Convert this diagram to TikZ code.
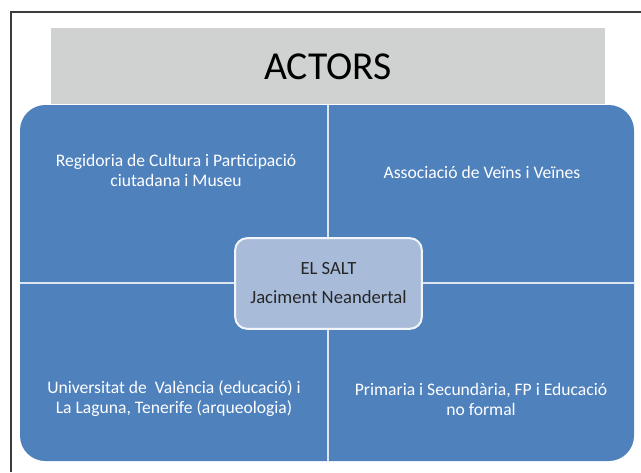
\documentclass[tikz,border=0pt]{standalone}
\usepackage{fontspec}
\setmainfont{Carlito}
\definecolor{actorblue}{HTML}{4F81BD}
\definecolor{hubblue}{HTML}{A8BCDA}
\definecolor{titlegray}{HTML}{D0D1D1}
\definecolor{framegray}{HTML}{3C3C3C}
\begin{document}
\begin{tikzpicture}[x=0.75pt,y=-0.75pt]
      \useasboundingbox (0,0) rectangle (641,472);
      \draw[framegray,line width=1.1pt] (11,472) -- (11,12) -- (641,12);
      \fill[titlegray] (51,28) rectangle (605,104);
      \node (title) at (328,67) {\fontsize{29.7}{34}\selectfont ACTORS};
      \fill[actorblue,rounded corners=19pt] (20,105) rectangle (634,461);
      \coordinate (top) at (328,105);
      \coordinate (bottom) at (328,461);
      \coordinate (left) at (20,283);
      \coordinate (right) at (634,283);
      \begin{scope}[every path/.style={draw=white!80!actorblue,line width=1.1pt}]
        \path (top) -- (bottom);
        \path (left) -- (right);
      \end{scope}
      \node (hub) at (328.5,283.5) [rectangle,rounded corners=9pt,fill=hubblue,draw=white!85!hubblue,
        line width=1.5pt,minimum width=140pt,minimum height=68pt,align=center,
        font=\fontsize{14}{21.75}\selectfont,text=black!85] {EL SALT\\Jaciment Neandertal};
      \begin{scope}[every node/.style={align=center,text=white,font=\fontsize{13.2}{15}\selectfont}]
        \node (council) at (176,170) {Regidoria de Cultura i Participació\\ciutadana i Museu};
        \node (neighbours) at (482,172) {Associació de Veïns i Veïnes};
        \node (university) at (174,399) {Universitat de\ \ València (educació) i\\La Laguna, Tenerife (arqueologia)};
        \node (schools) at (481,399) {Primaria i Secundària, FP i Educació\\no formal};
      \end{scope}
    \end{tikzpicture}
\end{document}
